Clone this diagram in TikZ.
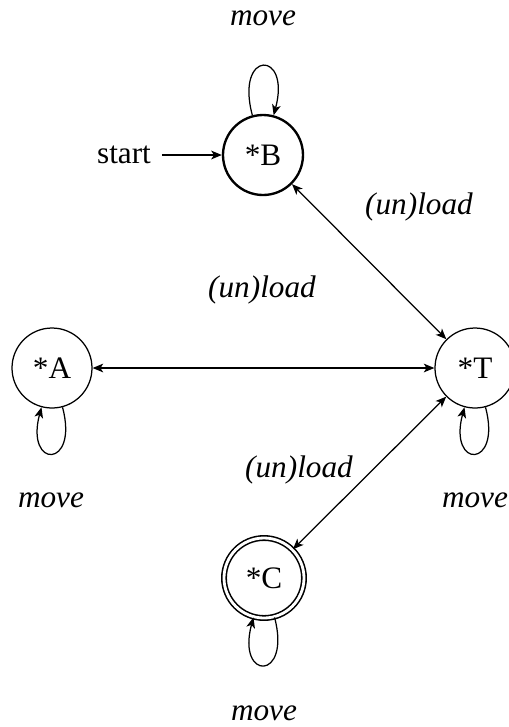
\documentclass[tikz,border=0pt]{standalone}
\usepackage{fontspec}
\setmainfont{Liberation Serif}
\usetikzlibrary{arrows.meta}
\begin{document}
\begin{tikzpicture}[
  x=0.32pt, y=0.32pt,
  font=\fontsize{10}{12}\selectfont,
  tip/.tip={Stealth[length=3.4pt,width=2.8pt,inset=0.9pt]},
  stnode/.style={circle, draw, minimum size=25.6pt, inner sep=0pt, line width=0.4pt},
  initstate/.style={stnode, line width=0.75pt},
  accstate/.style={stnode, line width=0.5pt, double, double distance=0.9pt},
  lbl/.style={font=\fontsize{10}{12}\selectfont\itshape, inner sep=0pt},
  both/.style={tip-tip, line width=0.4pt},
  loopline/.style={-tip, line width=0.4pt}
]
\useasboundingbox (0,0) rectangle (508,-727);

% states
\node[initstate] (B) at (263,-155) {*B};
\node[stnode]    (A) at (52,-368)  {*A};
\node[stnode]    (T) at (475,-368) {*T};
\node[accstate]  (C) at (264,-578) {*C};

% initial marker
\node (st) at (124,-155) {start};
\draw[-tip] (st) -- (B);

% transitions between states
\draw[both] (B) -- (T);
\draw[both] (A) -- (T);
\draw[both] (T) -- (C);

% self loops
\draw[loopline] (B.105) .. controls +(105:68) and +(75:68) .. (B.75);
\draw[loopline] (A.285) .. controls +(285:64) and +(255:64) .. (A.255);
\draw[loopline] (T.285) .. controls +(285:64) and +(255:64) .. (T.255);
\draw[loopline] (C.285) .. controls +(285:66) and +(255:66) .. (C.255);

% labels
\node[lbl] (lB)  at (263,-18)  {move};
\node[lbl] (lA)  at (51,-500)  {move};
\node[lbl] (lT)  at (475,-500) {move};
\node[lbl] (lC)  at (264,-713) {move};
\node[lbl] (lBT) at (419,-207) {(un)load};
\node[lbl] (lAT) at (262,-290) {(un)load};
\node[lbl] (lTC) at (299,-470) {(un)load};
\end{tikzpicture}
\end{document}
